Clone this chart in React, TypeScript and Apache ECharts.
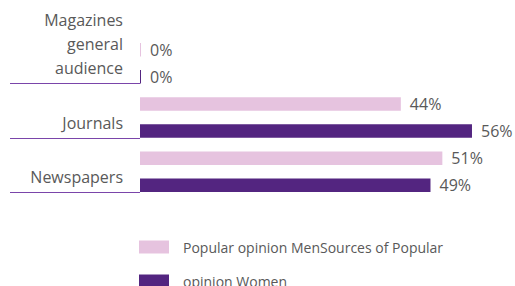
import React, { useEffect, useRef } from 'react';
import * as echarts from 'echarts';

const categories = ['Magazines\ngeneral\naudience', 'Journals', 'Newspapers'];
const seriesNames = ['Popular opinion MenSources of Popular', 'opinion Women'];
const menValues = [0, 44, 51];
const womenValues = [0, 56, 49];

const PINK = '#e6c3df';
const PURPLE = '#532580';
const TEXT = '#595959';

export default function App() {
  const ref = useRef<HTMLDivElement>(null);
  useEffect(() => {
    document.body.style.margin = '0';
    const chart = echarts.init(ref.current!, undefined, { renderer: 'svg' });
    const barW = 13.5;
    const label = {
      show: true,
      position: 'right',
      distance: 9,
      formatter: '{c}%',
      color: TEXT,
      fontSize: 16,
      fontFamily: 'Open Sans',
    };
    const legendBase = {
      orient: 'vertical',
      left: 139,
      padding: 0,
      itemWidth: 30,
      itemHeight: 13,
      icon: 'rect',
      textStyle: { color: TEXT, fontSize: 14, fontFamily: 'Open Sans', padding: [0, 0, 0, 9] },
    };
    chart.setOption({
      animation: false,
      grid: { left: 140, right: 19.3, top: 36, height: 163 },
      xAxis: { type: 'value', min: 0, max: 60, show: false },
      yAxis: {
        type: 'category',
        data: categories,
        inverse: true,
        axisLine: { show: false },
        axisTick: { show: false },
        splitLine: { show: false },
        axisLabel: {
          margin: 17,
          color: TEXT,
          fontFamily: 'Open Sans',
          fontSize: 16,
          lineHeight: 24,
          verticalAlign: 'bottom',
          align: 'right',
          padding: [0, 0, -17, 0],
        },
      },
      legend: [
        { ...legendBase, top: 240, data: [seriesNames[0]] },
        { ...legendBase, top: 274, data: [seriesNames[1]] },
      ],
      series: [
        {
          name: seriesNames[0],
          type: 'bar',
          data: menValues,
          barWidth: barW,
          barGap: '100%',
          barMinHeight: 1,
          itemStyle: { color: PINK },
          label,
        },
        {
          name: seriesNames[1],
          type: 'bar',
          data: womenValues,
          barWidth: barW,
          barGap: '100%',
          barMinHeight: 1,
          itemStyle: { color: PURPLE },
          label,
        },
      ],
    });
    const graphics = categories.map((c) => {
      const y = Math.round((chart.convertToPixel({ yAxisIndex: 0 }, c) as number) + barW * 1.5) + 0.5;
      return {
        type: 'line',
        z: 0,
        shape: { x1: 10, y1: y, x2: 140, y2: y },
        style: { stroke: '#7a45aa', lineWidth: 1 },
      };
    });
    chart.setOption({ graphic: graphics });
    return () => chart.dispose();
  }, []);
  return <div ref={ref} style={{ width: 515, height: 286 }} />;
}
